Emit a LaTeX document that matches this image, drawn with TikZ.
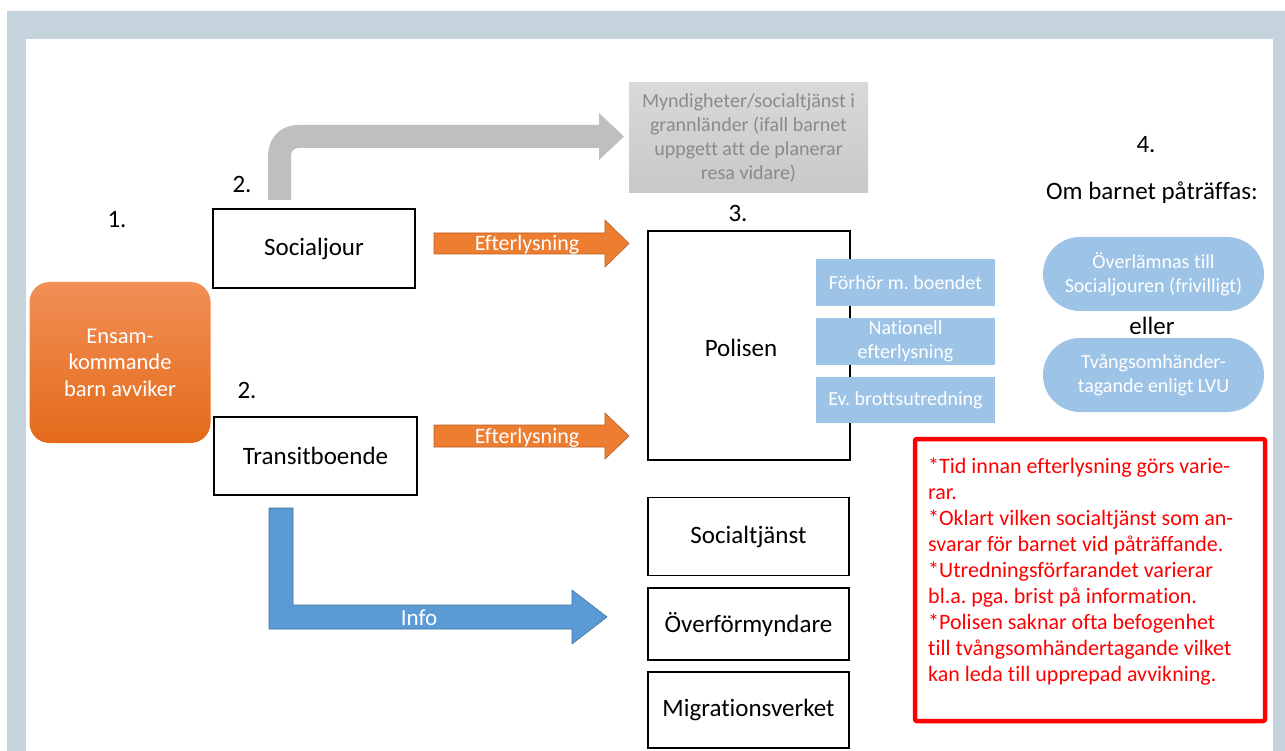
\documentclass[tikz,border=0pt]{standalone}
\usepackage{fontspec}
\setmainfont{Carlito}[Ligatures=NoCommon]
\definecolor{framec}{HTML}{C5D3DC}
\definecolor{orarrow}{HTML}{ED7D31}
\definecolor{orborder}{HTML}{B85F22}
\definecolor{bluearrow}{HTML}{5B9BD5}
\definecolor{blueborder}{HTML}{41719C}
\definecolor{greyarrow}{HTML}{BFBFBF}
\definecolor{lightblue}{HTML}{9DC3E6}
\definecolor{greytext}{HTML}{8A8A8A}
\definecolor{redc}{HTML}{FF0000}
\newcommand\fs[2]{\fontsize{#1pt}{#2pt}\selectfont}
\frenchspacing
\begin{document}
\begin{tikzpicture}[x=1pt,y=-1pt,
  box/.style={draw=black, line width=1.2pt, fill=white, inner sep=0pt, font=\fs{25}{30}},
  bluebox/.style={fill=lightblue, text=white, inner sep=0pt, align=center, font=\fs{20}{24}, minimum width=179},
  pill/.style={fill=lightblue, text=white, inner sep=0pt, align=center, font=\fs{20}{24}, minimum width=221, minimum height=74, rounded corners=37},
  lbl/.style={inner sep=0pt, font=\fs{25}{30}},
  arrowtext/.style={inner sep=0pt, text=white, font=\fs{22}{26}}
]
\useasboundingbox (0,0) rectangle (1285,751);
% frame
\fill[white] (0,0) rectangle (1285,751);
\fill[framec] (7,11) rectangle (1285,751);
\fill[white] (26,39) rectangle (1273,751);

% grey bent arrow
\fill[greyarrow] (268,200) -- (268,157) .. controls (268,138) and (280,125) .. (299,125)
  -- (599,125) -- (599,113) -- (624,136.5) -- (599,160) -- (599,148)
  -- (299,148) .. controls (294,148) and (291,151) .. (291,156) -- (291,200) -- cycle;

% orange arrows
\filldraw[fill=orarrow, draw=orborder, line width=0.6pt]
  (434,233) -- (605,233) -- (605,220) -- (629,243.5) -- (605,267) -- (605,254) -- (434,254) -- cycle;
\filldraw[fill=orarrow, draw=orborder, line width=0.6pt]
  (434,425) -- (605,425) -- (605,413) -- (629,436) -- (605,459) -- (605,447) -- (434,447) -- cycle;

% blue bent arrow
\filldraw[fill=bluearrow, draw=blueborder, line width=0.6pt]
  (269,508) -- (293,508) -- (293,605) -- (572,605) -- (572,590) -- (607,617)
  -- (572,644) -- (572,629) -- (269,629) -- cycle;

% nodes
\node[rounded corners=20pt, top color={rgb,255:red,241;green,143;blue,86}, bottom color={rgb,255:red,228;green,106;blue,26},
  minimum width=181, minimum height=161, inner sep=0pt, text=white, align=center, font=\fs{22.5}{26.5}]
  (ensam) at (120,362.5) {Ensam-\\kommande\\barn avviker};

\node[box, minimum width=202, minimum height=79] (socialjour) at (314,248.5) {Socialjour};
\node[box, minimum width=203, minimum height=78] (transit) at (315.5,456) {Transitboende};

\node[top color={rgb,255:red,217;green,217;blue,217}, bottom color={rgb,255:red,200;green,200;blue,200},
  minimum width=239, minimum height=110, inner sep=0pt, text=greytext, align=center, font=\fs{20}{23.8}]
  (grann) at (748.5,138) {Myndigheter/socialtjänst i\\grannländer (ifall barnet\\uppgett att de planerar\\resa vidare)};

\node[box, minimum width=202, minimum height=229] (polisen) at (749,345.5) {};
\node[lbl] (polisentext) at (741,348) {Polisen};

\node[bluebox, minimum height=47] (forhor) at (905.5,282.5) {Förhör m. boendet};
\node[bluebox, minimum height=47] (nationell) at (905.5,341.5) {Nationell\\efterlysning};
\node[bluebox, minimum height=46] (brott) at (905.5,400) {Ev. brottsutredning};

\node[box, minimum width=201, minimum height=78] (socialtjanst) at (748.5,536.5) {Socialtjänst};
\node[box, minimum width=201, minimum height=72] (overf) at (748.5,624) {Överförmyndare};
\node[box, minimum width=201, minimum height=76] (migr) at (748.5,710) {Migrationsverket};

\node[pill] (overl) at (1153.5,274) {Överlämnas till\\Socialjouren (frivilligt)};
\node[pill] (tvang) at (1153.5,375) {Tvångsomhänder-\\tagande enligt LVU};

% labels
\node[lbl] (n1) at (117,220) {1.};
\node[lbl] (n2a) at (242,184) {2.};
\node[lbl] (n2b) at (247,390) {2.};
\node[lbl] (n3) at (738,213) {3.};
\node[lbl] (n4) at (1146,145) {4.};
\node[lbl] (om) at (1152,193) {Om barnet påträffas:};
\node[lbl] (eller) at (1152,326) {eller};

\node[arrowtext] (eft1) at (527,244.5) {Efterlysning};
\node[arrowtext] (eft2) at (527,437.5) {Efterlysning};
\node[arrowtext, font=\fs{23}{27}] (info) at (419,618) {Info};

% red note box
\draw[redc, line width=4.5pt, rounded corners=2pt] (915,439) rectangle (1265,721);
\node[anchor=north west, inner sep=0pt, text=redc, align=left, font=\fs{22}{26}] (note) at (928,458)
  {*Tid innan efterlysning görs varie-\\rar.\\*Oklart vilken socialtjänst som an-\\svarar för barnet vid påträffande.\\*Utredningsförfarandet varierar\\bl.a. pga. brist på information.\\*Polisen saknar ofta befogenhet\\till tvångsomhändertagande vilket\\kan leda till upprepad avvikning.};
\end{tikzpicture}
\end{document}
